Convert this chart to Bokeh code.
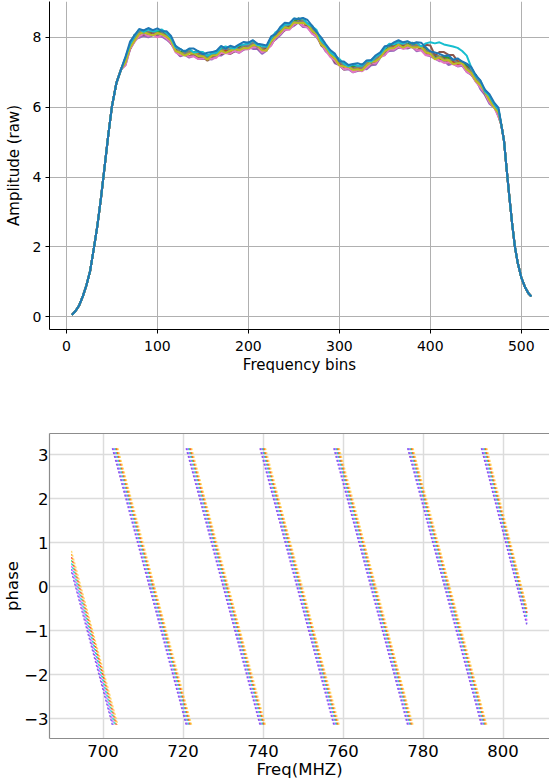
import math
from bokeh.plotting import figure
from bokeh.layouts import column
from bokeh.models import Range1d, FixedTicker, CustomJSTickFormatter, LinearAxis
from bokeh.embed import file_html
from bokeh.resources import INLINE

FONT = "DejaVu Sans"

# ---------------- top chart: amplitude per frequency bin ----------------
rise_bins = [6, 10, 14, 18, 22, 26, 30, 34, 38, 42, 46, 50, 55, 60]
rise_amp = [0.05, 0.16, 0.32, 0.58, 0.90, 1.30, 1.93, 2.60, 3.40, 4.30, 5.20, 6.02, 6.70, 7.08]
plateau_bins = list(range(65, 476, 5))
fall_bins = [478, 481, 484, 487, 490, 493, 496, 500, 504, 508, 511]
fall_amp = [5.50, 5.04, 4.20, 3.40, 2.65, 2.00, 1.55, 1.12, 0.85, 0.66, 0.58]

amp_run01 = [7.42, 7.77, 8.08, 8.12, 8.20, 8.24, 8.15, 8.17, 8.12, 8.14, 7.98, 7.73, 7.58, 7.62, 7.61, 7.57, 7.61, 7.46, 7.50, 7.50,
             7.60, 7.70, 7.66, 7.72, 7.66, 7.77, 7.76, 7.86, 7.80, 7.82, 7.77, 7.71, 7.94, 8.04, 8.26, 8.36, 8.38, 8.45, 8.55, 8.49,
             8.39, 8.34, 8.09, 7.94, 7.73, 7.62, 7.48, 7.30, 7.27, 7.15, 7.21, 7.15, 7.23, 7.22, 7.35, 7.46, 7.51, 7.66, 7.71, 7.82,
             7.86, 7.83, 7.80, 7.85, 7.79, 7.74, 7.72, 7.54, 7.51, 7.45, 7.45, 7.43, 7.34, 7.36, 7.25, 7.22, 7.04, 6.93, 6.65, 6.50,
             6.34, 6.08, 5.89]
amp_run02 = [7.36, 7.71, 8.03, 8.17, 8.15, 8.12, 8.18, 8.14, 8.12, 8.14, 7.86, 7.73, 7.56, 7.57, 7.62, 7.54, 7.56, 7.44, 7.48, 7.48,
             7.60, 7.59, 7.66, 7.71, 7.64, 7.71, 7.70, 7.81, 7.85, 7.77, 7.65, 7.74, 7.91, 8.04, 8.26, 8.24, 8.38, 8.43, 8.50, 8.50,
             8.36, 8.29, 8.07, 7.92, 7.71, 7.62, 7.37, 7.30, 7.26, 7.13, 7.15, 7.09, 7.18, 7.27, 7.30, 7.34, 7.54, 7.63, 7.71, 7.82,
             7.74, 7.83, 7.78, 7.80, 7.80, 7.71, 7.67, 7.52, 7.49, 7.43, 7.45, 7.32, 7.34, 7.35, 7.23, 7.16, 6.98, 6.88, 6.70, 6.45,
             6.22, 6.11, 5.86]
amp_run03 = [7.37, 7.75, 8.07, 8.09, 8.19, 8.14, 8.17, 8.19, 8.13, 8.13, 7.88, 7.75, 7.58, 7.61, 7.55, 7.58, 7.59, 7.46, 7.46, 7.46,
             7.59, 7.68, 7.65, 7.63, 7.71, 7.72, 7.74, 7.85, 7.77, 7.81, 7.67, 7.73, 7.96, 8.05, 8.25, 8.26, 8.40, 8.45, 8.54, 8.43,
             8.40, 8.32, 8.09, 7.90, 7.69, 7.61, 7.46, 7.29, 7.18, 7.20, 7.16, 7.13, 7.22, 7.19, 7.34, 7.36, 7.53, 7.68, 7.72, 7.81,
             7.76, 7.85, 7.80, 7.84, 7.73, 7.75, 7.70, 7.54, 7.47, 7.41, 7.44, 7.41, 7.33, 7.27, 7.30, 7.17, 7.02, 6.92, 6.62, 6.49,
             6.24, 6.10, 5.91]
amp_run04 = [7.34, 7.68, 7.98, 8.03, 8.13, 8.08, 8.13, 8.04, 8.09, 8.08, 7.82, 7.65, 7.48, 7.52, 7.56, 7.49, 7.43, 7.45, 7.39, 7.42,
             7.55, 7.52, 7.61, 7.57, 7.62, 7.69, 7.67, 7.76, 7.71, 7.75, 7.61, 7.69, 7.81, 8.01, 8.20, 8.20, 8.30, 8.35, 8.45, 8.44,
             8.31, 8.16, 8.08, 7.83, 7.65, 7.57, 7.30, 7.25, 7.12, 7.11, 7.13, 7.06, 7.13, 7.13, 7.28, 7.30, 7.49, 7.53, 7.68, 7.76,
             7.70, 7.75, 7.70, 7.75, 7.74, 7.66, 7.54, 7.53, 7.40, 7.37, 7.40, 7.25, 7.29, 7.21, 7.21, 7.14, 6.95, 6.83, 6.56, 6.43,
             6.18, 6.06, 5.76]
amp_run05 = [7.21, 7.66, 7.95, 7.99, 8.05, 8.00, 8.06, 8.07, 8.02, 7.94, 7.83, 7.60, 7.46, 7.50, 7.42, 7.47, 7.39, 7.38, 7.38, 7.37,
             7.48, 7.48, 7.57, 7.53, 7.60, 7.56, 7.65, 7.73, 7.67, 7.67, 7.53, 7.62, 7.84, 7.94, 8.06, 8.21, 8.25, 8.33, 8.43, 8.30,
             8.29, 8.12, 8.01, 7.82, 7.60, 7.50, 7.26, 7.21, 7.08, 7.09, 7.00, 7.04, 7.10, 7.09, 7.20, 7.22, 7.42, 7.56, 7.61, 7.62,
             7.71, 7.70, 7.68, 7.73, 7.60, 7.64, 7.50, 7.46, 7.39, 7.32, 7.33, 7.21, 7.25, 7.17, 7.19, 7.01, 6.93, 6.80, 6.52, 6.35,
             6.10, 5.99, 5.79]
amp_run06 = [7.32, 7.67, 7.89, 8.08, 8.08, 8.06, 8.12, 8.01, 8.08, 7.98, 7.84, 7.67, 7.49, 7.51, 7.46, 7.51, 7.43, 7.44, 7.33, 7.43,
             7.53, 7.52, 7.57, 7.53, 7.61, 7.67, 7.66, 7.67, 7.76, 7.70, 7.59, 7.68, 7.78, 8.00, 8.10, 8.22, 8.32, 8.36, 8.44, 8.34,
             8.33, 8.16, 8.07, 7.77, 7.66, 7.55, 7.30, 7.21, 7.08, 7.10, 7.11, 7.05, 7.04, 7.18, 7.23, 7.28, 7.48, 7.50, 7.67, 7.66,
             7.72, 7.77, 7.71, 7.74, 7.64, 7.68, 7.79, 7.77, 7.49, 7.58, 7.58, 7.50, 7.50, 7.32, 7.20, 7.12, 6.94, 6.74, 6.61, 6.38,
             6.16, 6.05, 5.73]
amp_run07 = [7.21, 7.68, 7.88, 8.04, 8.10, 8.04, 8.08, 8.00, 8.07, 7.97, 7.85, 7.57, 7.50, 7.51, 7.45, 7.46, 7.38, 7.40, 7.39, 7.39,
             7.42, 7.56, 7.55, 7.54, 7.62, 7.56, 7.67, 7.66, 7.72, 7.72, 7.57, 7.64, 7.77, 7.99, 8.09, 8.23, 8.22, 8.37, 8.44, 8.33,
             8.28, 8.11, 8.03, 7.83, 7.62, 7.44, 7.34, 7.19, 7.09, 7.11, 7.00, 7.06, 7.03, 7.14, 7.25, 7.26, 7.44, 7.49, 7.66, 7.65,
             7.73, 7.67, 7.72, 7.74, 7.63, 7.63, 7.49, 7.48, 7.40, 7.34, 7.27, 7.29, 7.23, 7.18, 7.21, 7.01, 6.95, 6.73, 6.57, 6.40,
             6.14, 6.01, 5.72]
amp_run08 = [7.31, 7.78, 7.98, 8.16, 8.11, 8.16, 8.19, 8.10, 8.13, 8.03, 7.92, 7.74, 7.57, 7.51, 7.60, 7.55, 7.50, 7.52, 7.39, 7.51,
             7.52, 7.63, 7.68, 7.63, 7.69, 7.66, 7.77, 7.76, 7.84, 7.73, 7.69, 7.75, 7.87, 8.05, 8.15, 8.30, 8.39, 8.44, 8.44, 8.48,
             8.37, 8.23, 8.15, 7.83, 7.74, 7.54, 7.41, 7.32, 7.18, 7.18, 7.10, 7.16, 7.13, 7.26, 7.26, 7.38, 7.55, 7.59, 7.72, 7.71,
             7.80, 7.84, 7.79, 7.74, 7.78, 7.72, 7.61, 7.60, 7.40, 7.46, 7.37, 7.36, 7.36, 7.27, 7.28, 7.11, 7.05, 6.83, 6.69, 6.41,
             6.26, 6.12, 5.82]
amp_run09 = [7.28, 7.71, 7.91, 8.10, 8.15, 8.10, 8.06, 8.12, 8.09, 8.02, 7.91, 7.61, 7.56, 7.48, 7.54, 7.55, 7.46, 7.46, 7.36, 7.48,
             7.49, 7.62, 7.56, 7.62, 7.67, 7.63, 7.70, 7.69, 7.78, 7.77, 7.63, 7.62, 7.89, 8.01, 8.14, 8.29, 8.26, 8.43, 8.41, 8.42,
             8.37, 8.19, 8.09, 7.80, 7.71, 7.51, 7.40, 7.20, 7.17, 7.16, 7.07, 7.09, 7.06, 7.20, 7.30, 7.32, 7.42, 7.61, 7.68, 7.70,
             7.79, 7.71, 7.78, 7.71, 7.72, 7.72, 7.57, 7.54, 7.37, 7.43, 7.34, 7.35, 7.24, 7.26, 7.26, 7.08, 6.98, 6.76, 6.63, 6.45,
             6.20, 5.99, 5.84]
amp_run10 = [7.44, 7.81, 8.04, 8.23, 8.16, 8.23, 8.17, 8.20, 8.23, 8.12, 7.99, 7.72, 7.67, 7.59, 7.67, 7.57, 7.59, 7.58, 7.47, 7.55,
             7.56, 7.70, 7.74, 7.70, 7.68, 7.79, 7.80, 7.82, 7.91, 7.78, 7.76, 7.73, 7.97, 8.15, 8.24, 8.37, 8.37, 8.54, 8.52, 8.55,
             8.39, 8.32, 8.21, 7.91, 7.78, 7.58, 7.48, 7.38, 7.25, 7.17, 7.23, 7.19, 7.19, 7.33, 7.31, 7.45, 7.53, 7.69, 7.82, 7.80,
             7.87, 7.82, 7.89, 7.82, 7.85, 7.74, 7.83, 7.86, 7.83, 7.86, 7.80, 7.77, 7.74, 7.70, 7.61, 7.48, 7.14, 6.89, 6.76, 6.46,
             6.33, 6.10, 5.92]
amp_run11 = [7.45, 7.88, 8.07, 8.24, 8.20, 8.27, 8.21, 8.26, 8.18, 8.18, 8.04, 7.76, 7.67, 7.59, 7.68, 7.68, 7.60, 7.52, 7.56, 7.58,
             7.62, 7.76, 7.68, 7.76, 7.72, 7.80, 7.87, 7.85, 7.92, 7.82, 7.80, 7.77, 8.03, 8.10, 8.30, 8.42, 8.41, 8.54, 8.52, 8.56,
             8.50, 8.33, 8.15, 8.00, 7.81, 7.64, 7.54, 7.32, 7.31, 7.21, 7.24, 7.26, 7.22, 7.34, 7.35, 7.49, 7.57, 7.75, 7.77, 7.86,
             7.92, 7.86, 7.89, 7.82, 7.86, 7.85, 7.71, 7.60, 7.57, 7.53, 7.47, 7.49, 7.36, 7.40, 7.31, 7.25, 7.15, 6.92, 6.77, 6.50,
             6.37, 6.14, 5.98]

amp_runs = [amp_run01, amp_run02, amp_run03, amp_run04, amp_run05, amp_run06,
            amp_run07, amp_run08, amp_run09, amp_run10, amp_run11]
run_colors = ["#1f77b4", "#ff7f0e", "#2ca02c", "#d62728", "#9467bd", "#8c564b",
              "#e377c2", "#7f7f7f", "#bcbd22", "#17becf", "#1f77b4"]

amp_x_ticks = [0, 100, 200, 300, 400, 500]
amp_y_ticks = [0, 2, 4, 6, 8]

# ---------------- bottom chart: wrapped phase vs frequency ----------------
PI = 3.14159
phase_start_freq = 692.1
phase_end_freq = 806.0
phase_start = [0.33, 0.40, 0.47, 0.53, 0.60, 0.67, 0.74, 0.81]
phase_end = [-0.90, -0.84, -0.78, -0.72, -0.66, -0.60, -0.54, -0.48]
wrap_freqs = [
    [702.3, 720.75, 739.2, 757.65, 776.1, 794.55],
    [702.5, 720.95, 739.4, 757.85, 776.3, 794.75],
    [702.7, 721.15, 739.6, 758.05, 776.5, 794.95],
    [702.9, 721.35, 739.8, 758.25, 776.7, 795.15],
    [703.1, 721.55, 740.0, 758.45, 776.9, 795.35],
    [703.3, 721.75, 740.2, 758.65, 777.1, 795.55],
    [703.5, 721.95, 740.4, 758.85, 777.3, 795.75],
    [703.7, 722.15, 740.6, 759.05, 777.5, 795.95],
]
phase_colors = ["#8a2be2", "#4169ff", "#ff40ff", "#00bfff", "#33dd55", "#ff2222", "#ff9900", "#ffd24d"]
phase_x_ticks = [700, 720, 740, 760, 780, 800]
phase_y_ticks = [-3, -2, -1, 0, 1, 2, 3]

# ---------------- top figure ----------------
top = figure(width=549, height=400, output_backend="svg", toolbar_location=None,
             x_range=Range1d(-18.6, 531.0), y_range=Range1d(-0.37, 9.03),
             min_border_left=47, min_border_right=0, min_border_top=1, min_border_bottom=71)
top.outline_line_color = None
for run, c in zip(amp_runs, run_colors):
    top.line(rise_bins + plateau_bins + fall_bins, rise_amp + run + fall_amp,
             line_color=c, line_width=2)

top.xaxis.ticker = FixedTicker(ticks=amp_x_ticks)
top.yaxis.ticker = FixedTicker(ticks=amp_y_ticks)
top.xaxis.axis_label = "Frequency bins"
top.yaxis.axis_label = "Amplitude (raw)"
for ax in (top.xaxis[0], top.yaxis[0]):
    ax.axis_line_color = "black"
    ax.major_tick_line_color = "black"
    ax.major_tick_out = 4
    ax.major_tick_in = 0
    ax.minor_tick_line_color = None
    ax.major_label_text_font = FONT
    ax.major_label_text_font_size = "14px"
    ax.major_label_text_color = "black"
    ax.axis_label_text_font = FONT
    ax.axis_label_text_font_size = "15px"
    ax.axis_label_text_font_style = "normal"
    ax.axis_label_text_color = "black"
top.xaxis.major_label_standoff = 7
top.xaxis.axis_label_standoff = 2
top.yaxis.major_label_standoff = 4
top.yaxis.axis_label_standoff = 7
top.grid.grid_line_color = "#b0b0b0"
top.grid.grid_line_width = 1

# ---------------- bottom figure ----------------
bot = figure(width=549, height=383, output_backend="svg", toolbar_location=None,
             x_range=Range1d(686.6, 811.6), y_range=Range1d(-3.45, 3.477),
             min_border_left=49, min_border_right=0, min_border_top=33, min_border_bottom=45)
bot.outline_line_color = None
for i, c in enumerate(phase_colors):
    knots = [phase_start_freq] + wrap_freqs[i] + [phase_end_freq]
    xs, ys = [], []
    for k in range(len(knots) - 1):
        y0 = phase_start[i] if k == 0 else PI
        y1 = phase_end[i] if k == len(knots) - 2 else -PI
        xs.append([knots[k], knots[k + 1]])
        ys.append([y0, y1])
    bot.multi_line(xs, ys, line_color=c, line_width=1.3, line_dash="2 2", line_alpha=0.8)

top_spine = LinearAxis(ticker=FixedTicker(ticks=[]), axis_line_color="#8c8c8c", axis_line_width=1.2,
                       major_tick_out=0, major_tick_in=0, minor_tick_out=0, minor_tick_in=0,
                       major_label_standoff=0)
bot.add_layout(top_spine, "above")

bot.below[0].ticker = FixedTicker(ticks=phase_x_ticks)
bot.left[0].ticker = FixedTicker(ticks=phase_y_ticks)
bot.left[0].formatter = CustomJSTickFormatter(
    code="return tick < 0 ? '\u2212' + Math.abs(tick) : String(tick);")
bot.below[0].axis_label = "Freq(MHZ)"
bot.left[0].axis_label = "phase"
for ax in (bot.below[0], bot.left[0]):
    ax.axis_line_color = "#8c8c8c"
    ax.axis_line_width = 1.2
    ax.major_tick_out = 0
    ax.major_tick_in = 0
    ax.minor_tick_line_color = None
    ax.major_label_text_font = FONT
    ax.major_label_text_font_size = "16.5px"
    ax.major_label_text_color = "black"
    ax.axis_label_text_font = FONT
    ax.axis_label_text_font_size = "16.5px"
    ax.axis_label_text_font_style = "normal"
    ax.axis_label_text_color = "black"
bot.below[0].major_label_standoff = 6
bot.below[0].axis_label_standoff = 0
bot.left[0].major_label_standoff = 1
bot.left[0].axis_label_standoff = -1
bot.grid.grid_line_color = "#dcdcdc"
bot.grid.grid_line_width = 1.5

layout = column(top, bot, spacing=0)
open("out.html", "w").write(file_html(layout, INLINE))
